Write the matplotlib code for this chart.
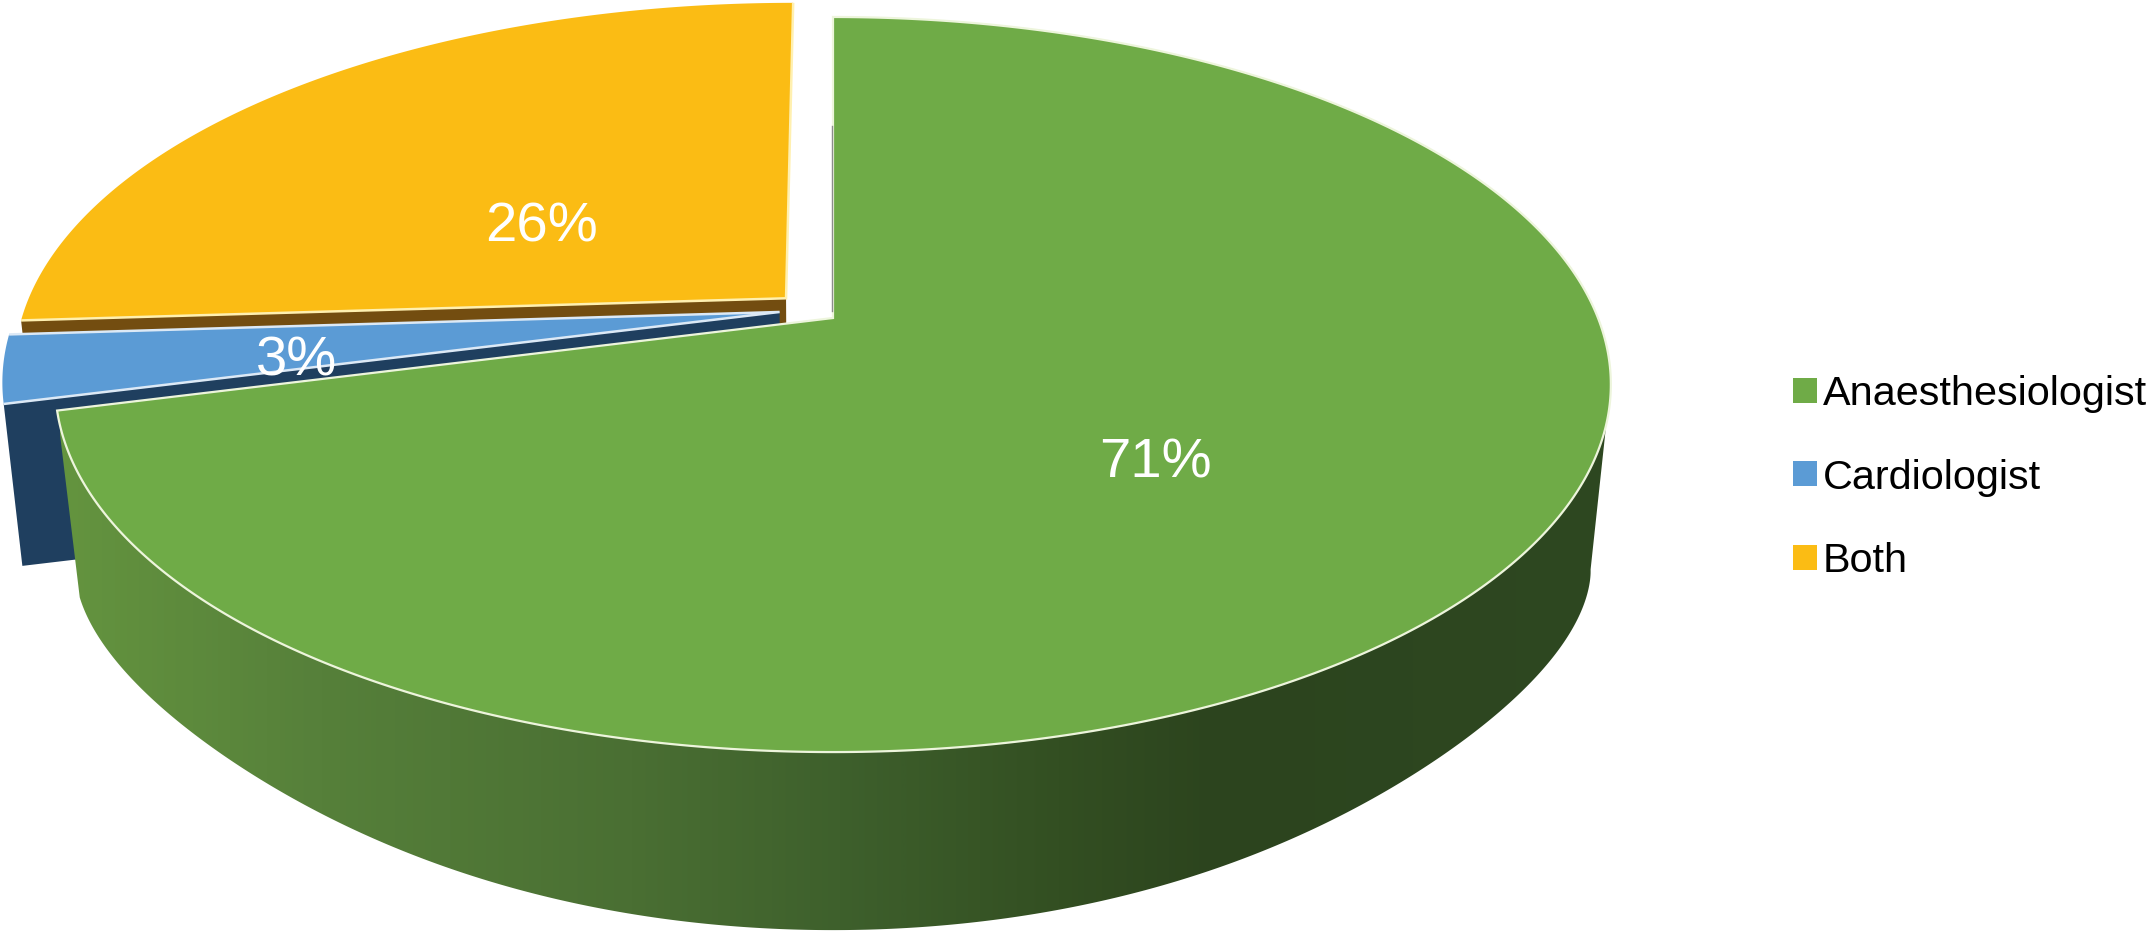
import numpy as np
import matplotlib
matplotlib.use("Agg")
import matplotlib.pyplot as plt
from matplotlib.patches import Polygon, Patch
from matplotlib.colors import LinearSegmentedColormap

# data
categories = ["Anaesthesiologist", "Cardiologist", "Both"]
shares = [71, 3, 26]

# style
face_colors = ["#6FAB47", "#5B9BD5", "#FBBC14"]
edge_colors = ["#EDF5DC", "#DCE9F6", "#FFF0B0"]
side_colors = [None, "#1F3F5F", "#734D10"]
side_stops = [(0.0, "#64943F"), (0.165, "#56803A"), (0.365, "#4A6F33"),
              (0.50, "#3E602C"), (0.64, "#334F22"), (0.74, "#2C441E"),
              (1.0, "#2E4821")]
explode = [(0.0, 0.0), (-0.070, 0.017), (-0.062, 0.056)]
depth_scale = [0.974, 0.9775, 0.977]
label_xy = [(1155, 464), (297, 361), (542, 227)]

CX, CY, A, B, K = 833, 318, 765, 355.5, 0.181
VX, VY = 833, 7600

plt.rcParams["font.family"] = ["Liberation Sans", "DejaVu Sans"]
fig = plt.figure(figsize=(21.48, 9.31), dpi=100, facecolor="white")
ax = fig.add_axes([0, 0, 1, 1])


def project(theta, radius=1.0, shift=(0.0, 0.0)):
    u = radius * np.cos(theta) + shift[0]
    v = radius * np.sin(theta) + shift[1]
    w = 1 + K * v
    return CX + A * u / w, CY - B * v / w


def lower(x, y, s):
    return VX + s * (np.asarray(x) - VX), VY + s * (np.asarray(y) - VY)


def arc(a0, a1, shift):
    t = np.radians(np.linspace(a0, a1, 480))
    return project(t, 1.0, shift)


def rim_curve(a0, a1, s):
    """Lower outline of the rim: the lower ellipse, pulled in on the diagonals."""
    x, y = lower(*arc(a0, a1, (0, 0)), s)
    half_w = 778 * s
    cy = VY + s * (384.5 - VY)
    half_h = 367 * s
    X = (x - CX) / half_w
    Y = (y - cy) / half_h
    phi = np.arctan2(np.maximum(Y, 0), np.abs(X))
    skew = (np.pi / 2) * (phi / (np.pi / 2)) ** 0.8
    k = 1 - 0.048 * np.sin(2 * skew) ** 2
    return CX + half_w * X * k, cy + half_h * Y * k


# slice angles, clockwise from 12 o'clock
cum = np.cumsum([0] + shares) / sum(shares) * 360
start = 90 - cum[:-1]
end = 90 - cum[1:]

faces = {}
for i in range(3):
    ax_, ay_ = arc(start[i], end[i], explode[i])
    px, py = project(0.0, 0.0, explode[i])
    faces[i] = (np.r_[px, ax_], np.r_[py, ay_])

# cut face of the "Both" slice
x0, y0 = project(0.0, 0.0, explode[2])
x1, y1 = project(np.radians(start[2]), 1.0, explode[2])
lx0, ly0 = lower(x0, y0, depth_scale[2])
lx1, ly1 = lower(x1, y1, depth_scale[2])
ax.add_patch(Polygon([(x0, y0), (x1, y1), (lx1, ly1), (lx0, ly0)],
                     closed=True, fc=side_colors[2], ec="none", zorder=1))

# cut face of the "Cardiologist" slice
x0, y0 = project(0.0, 0.0, explode[1])
x1, y1 = project(np.radians(start[1]), 1.0, explode[1])
lx0, ly0 = lower(x0, y0, depth_scale[1])
lx1, ly1 = lower(x1, y1, depth_scale[1])
ax.add_patch(Polygon([(x0, y0), (x1, y1), (lx1, ly1), (lx0, ly0)],
                     closed=True, fc=side_colors[1], ec="none", zorder=2))

# rim of the "Anaesthesiologist" slice with horizontal gradient
tx, ty = arc(end[0] + 360, 350, (0, 0))
bx, by = rim_curve(350, end[0] + 360, depth_scale[0])
rim = Polygon(np.c_[np.r_[tx, bx], np.r_[ty, by]], closed=True,
              fc="none", ec="none", zorder=4)
ax.add_patch(rim)
cmap = LinearSegmentedColormap.from_list("rim", side_stops)
grad = ax.imshow(np.linspace(0, 1, 1024)[None, :], cmap=cmap, aspect="auto",
                 extent=(60, 1620, 940, 380), zorder=4, vmin=0, vmax=1)
grad.set_clip_path(rim)

# top faces: light line along the cut edges of the exploded slices
for i, z in zip([1, 2], [3, 3]):
    ax.add_patch(Polygon(np.c_[faces[i]], closed=True, fc=face_colors[i],
                         ec="none", zorder=z))
    xs = [faces[i][0][-1], faces[i][0][0], faces[i][0][1]]
    ys = [faces[i][1][-1], faces[i][1][0], faces[i][1][1]]
    ax.plot(xs, ys, color=edge_colors[i], lw=1.8, zorder=z + 0.5,
            solid_joinstyle="miter", solid_capstyle="butt")
ax.add_patch(Polygon(np.c_[faces[0]], closed=True, fc=face_colors[0],
                     ec=edge_colors[0], lw=1.6, joinstyle="miter", zorder=5))

# thin grey seam on the vertical cut of the large slice
gx, gy = zip(*[project(np.pi / 2, r) for r in (0.02, 0.6)])
ax.plot(np.array(gx) - 1.5, gy, color="#8C8C8C", lw=1.0, zorder=5.5)

# value labels
for s, (x, y) in zip(shares, label_xy):
    ax.text(x, y, f"{s}%", color="white", fontsize=40.5, ha="center",
            va="center", zorder=8)

# legend
handles = [Patch(fc=c, ec="none", label=n) for c, n in zip(face_colors, categories)]
ax.legend(handles=handles, loc="upper left", bbox_to_anchor=(1793, 375),
          bbox_transform=ax.transData, frameon=False, fontsize=29.8,
          labelspacing=1.1, handlelength=0.58, handleheight=0.56,
          handletextpad=0.14, borderpad=0, borderaxespad=0, labelcolor="black")

ax.set_xlim(0, 2148)
ax.set_ylim(931, 0)
ax.axis("off")
fig.savefig("out.png", dpi=100, facecolor="white")
